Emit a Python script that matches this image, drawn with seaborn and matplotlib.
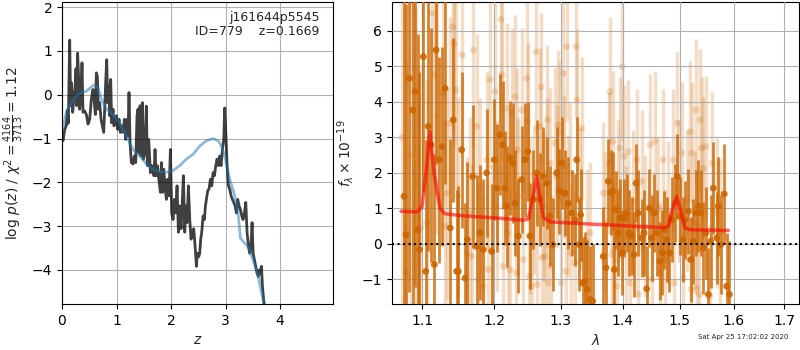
import matplotlib
matplotlib.use("Agg")
import matplotlib.pyplot as plt
import matplotlib.ticker as mticker
import numpy as np
import pandas as pd
import seaborn as sns

# ---------------- left panel: log p(z) ----------------
z_pz = [0.0, 0.018, 0.049, 0.080, 0.098, 0.116, 0.141, 0.159, 0.177, 0.196, 0.214, 0.239, 0.257,
        0.269, 0.287, 0.306, 0.324, 0.349, 0.367, 0.385, 0.416, 0.446, 0.477, 0.508, 0.538, 0.569,
        0.587, 0.612, 0.630, 0.648, 0.667, 0.691, 0.716, 0.740, 0.765, 0.783, 0.801, 0.820, 0.838,
        0.856, 0.875, 0.893, 0.911, 0.936, 0.954, 0.979, 0.997, 1.021, 1.046, 1.070, 1.095, 1.119,
        1.144, 1.168, 1.193, 1.211, 1.229, 1.248, 1.272, 1.303, 1.327, 1.352, 1.376, 1.394, 1.413,
        1.431, 1.450, 1.474, 1.492, 1.517, 1.547, 1.566, 1.590, 1.621, 1.645, 1.670, 1.688, 1.706,
        1.725, 1.749, 1.780, 1.804, 1.823, 1.847, 1.865, 1.890, 1.914, 1.939, 1.963, 1.988, 2.012,
        2.037, 2.061, 2.086, 2.110, 2.135, 2.159, 2.183, 2.208, 2.226, 2.251, 2.269, 2.294, 2.318,
        2.343, 2.367, 2.391, 2.416, 2.440, 2.465, 2.483, 2.508, 2.526, 2.544, 2.563, 2.587, 2.612,
        2.630, 2.648, 2.673, 2.697, 2.722, 2.746, 2.771, 2.795, 2.820, 2.844, 2.869, 2.893, 2.917,
        2.942, 2.966, 2.985, 3.003, 3.028, 3.052, 3.076, 3.101, 3.125, 3.150, 3.174, 3.199, 3.223,
        3.248, 3.272, 3.297, 3.321, 3.346, 3.370, 3.394, 3.419, 3.443, 3.468, 3.486, 3.505, 3.529,
        3.554, 3.578, 3.603, 3.621, 3.639, 3.658, 3.676, 3.700, 3.719, 3.760]
logp = [-0.95, -1.05, -0.80, -0.70, -0.35, -0.65, 1.25, -0.25, 0.27, -0.40, -0.10, 0.12, 0.60,
        -0.25, 0.95, 0.35, -0.33, 0.05, 0.73, -0.40, -0.37, -0.45, -0.67, -0.56, -0.10, 0.12,
        -0.10, -0.45, 0.50, 0.42, -0.33, -0.18, -0.56, -0.71, -0.86, -0.33, 0.27, 0.80, -0.18,
        0.20, -0.48, 0.35, -0.64, -0.33, -0.71, -0.56, -0.48, -0.79, -0.56, -0.86, -0.71, -0.86,
        -0.56, -1.02, -0.56, -0.94, 0.05, -1.10, -1.55, -1.58, -1.40, -1.55, -0.48, -0.33, -1.33,
        -0.25, -1.40, -0.18, -1.47, -1.33, -0.26, -1.62, -1.02, -1.78, -1.62, -1.78, -1.85, -1.25,
        -1.85, -1.62, -1.97, -2.23, -1.55, -2.23, -1.70, -2.08, -2.39, -1.93, -2.31, -1.25, -2.70,
        -2.85, -2.39, -2.70, -2.08, -3.14, -2.54, -3.06, -2.39, -1.85, -3.14, -2.54, -2.92, -2.08,
        -2.85, -3.30, -3.14, -3.06, -3.45, -3.92, -3.62, -3.70, -3.62, -3.30, -3.14, -2.77, -2.85,
        -2.54, -2.39, -2.19, -2.15, -1.93, -2.08, -1.78, -1.85, -1.62, -1.47, -1.62, -1.40, -1.62,
        -1.25, -1.02, -0.30, -0.86, -1.62, -2.08, -2.15, -2.31, -2.39, -2.46, -2.54, -2.70, -2.39,
        -2.54, -2.62, -2.77, -2.85, -2.70, -2.46, -3.14, -3.45, -3.62, -3.38, -2.92, -3.62, -3.77,
        -3.92, -4.08, -4.15, -4.00, -4.08, -3.92, -4.38, -4.70, -4.90, -5.40]

z_prior = [0.0, 0.080, 0.171, 0.263, 0.355, 0.446, 0.538, 0.599, 0.661, 0.722, 0.813, 0.936,
           1.058, 1.180, 1.303, 1.425, 1.547, 1.670, 1.792, 1.914, 2.037, 2.159, 2.281, 2.404,
           2.526, 2.648, 2.771, 2.862, 2.924, 2.985, 3.076, 3.168, 3.229, 3.272, 3.321, 3.413,
           3.505, 3.596, 3.688, 3.749]
logp_prior = [-0.86, -0.40, -0.18, -0.03, 0.05, 0.08, 0.18, 0.23, 0.16, -0.10, -0.33, -0.45,
              -0.64, -0.94, -1.25, -1.40, -1.58, -1.70, -1.76, -1.77, -1.73, -1.62, -1.47, -1.36,
              -1.17, -1.05, -1.00, -1.05, -1.17, -1.40, -1.93, -2.31, -2.70, -3.27, -3.35, -3.48,
              -3.77, -4.15, -4.68, -5.05]

# ---------------- right panel: spectrum ----------------
wave_bin = [1.0764, 1.0790, 1.0834, 1.0877, 1.0908, 1.0943, 1.0965, 1.1018, 1.1049, 1.1084,
            1.1120, 1.1164, 1.1187, 1.1232, 1.1268, 1.1309, 1.1381, 1.1422, 1.1468, 1.1491,
            1.1537, 1.1584, 1.1616, 1.1691, 1.1747, 1.1795, 1.1842, 1.1889, 1.1961, 1.2000,
            1.2033, 1.2082, 1.2120, 1.2155, 1.2179, 1.2228, 1.2267, 1.2302, 1.2351, 1.2401,
            1.2450, 1.2490, 1.2525, 1.2576, 1.2626, 1.2677, 1.2728, 1.2779, 1.2830, 1.2872,
            1.2934, 1.2975, 1.3012, 1.3064, 1.3116, 1.3169, 1.3222, 1.3249, 1.3291, 1.3312,
            1.3344, 1.3382, 1.3420, 1.3463, 1.3506, 1.3680, 1.3724, 1.3763, 1.3801, 1.3835,
            1.3862, 1.3890, 1.3929, 1.3957, 1.3996, 1.4030, 1.4070, 1.4109, 1.4154, 1.4194,
            1.4228, 1.4268, 1.4326, 1.4366, 1.4412, 1.4458, 1.4499, 1.4546, 1.4587, 1.4645,
            1.4686, 1.4722, 1.4763, 1.4811, 1.4852, 1.4912, 1.4954, 1.5002, 1.5050, 1.5092,
            1.5153, 1.5195, 1.5244, 1.5293, 1.5336, 1.5379, 1.5429, 1.5472, 1.5522, 1.5565,
            1.5615, 1.5678, 1.5710, 1.5754, 1.5823, 1.5868, 1.5919]
flux_bin = [1.34, 0.26, 4.66, 3.77, 4.29, 0.40, -0.16, 5.27, -0.77, 3.31,
            2.79, -0.58, 5.46, 2.37, 2.74, 4.38, 0.45, 3.49, -0.77, -0.77,
            2.65, -0.96, 0.12, 1.90, -0.07, 0.31, -0.16, 2.00, -0.21, 2.37,
            1.57, 3.07, 2.79, 1.57, 1.06, 2.42, 2.28, 1.15, 0.22, 1.81,
            2.37, 2.60, 0.22, 1.25, 2.00, 1.25, 1.90, 1.71, 0.78, -0.02,
            2.00, 1.48, 2.28, 1.43, 1.15, 0.87, 0.68, 2.37, -0.02, 0.82,
            -1.10, -1.05, -1.28, -1.56, -1.61, -0.35, -0.67, 1.76, 1.45, 1.48,
            -0.72, 0.96, 0.31, 0.73, -0.25, 0.73, 0.87, 0.31, 0.22, -0.30,
            1.71, 0.87, 0.17, 0.31, -1.26, 1.01, 0.17, 0.87, 0.31, -0.49,
            -0.25, 0.40, 0.12, -0.25, 0.68, 1.15, 1.90, 0.78, 0.12, 0.68,
            0.92, -0.44, 0.07, 0.87, 1.06, 0.87, -0.11, 0.31, -1.42, 0.07,
            1.57, 0.17, 1.06, -0.02, 1.41, -1.19, -1.42]
err_bin = [6.5, 6.5, 6.0, 6.0, 5.5, 5.5, 5.0, 3.8, 3.7, 3.5,
           3.3, 3.1, 3.2, 2.9, 2.8, 2.7, 2.5, 2.3, 2.3, 2.4,
           2.2, 2.1, 2.2, 2.0, 2.0, 1.9, 2.0, 1.8, 1.9, 1.7,
           1.8, 1.7, 1.8, 1.6, 1.7, 1.6, 1.7, 1.5, 1.6, 1.5,
           1.6, 1.4, 1.5, 1.4, 1.5, 1.3, 1.4, 1.3, 1.4, 1.3,
           1.3, 1.2, 1.3, 1.2, 1.3, 1.2, 1.3, 1.2, 1.3, 1.3,
           1.3, 1.4, 1.4, 1.5, 1.6, 1.4, 1.3, 1.2, 1.2, 1.1,
           1.2, 1.1, 1.2, 1.1, 1.2, 1.1, 1.1, 1.2, 1.1, 1.2,
           1.1, 1.2, 1.1, 1.2, 1.2, 1.1, 1.2, 1.1, 1.2, 1.1,
           1.2, 1.1, 1.2, 1.1, 1.2, 1.1, 1.2, 1.1, 1.2, 1.1,
           1.2, 1.2, 1.2, 1.2, 1.3, 1.2, 1.3, 1.3, 1.3, 1.3,
           1.3, 1.3, 1.4, 1.4, 1.4, 1.5, 1.5]

wave_raw = [1.0734, 1.0790, 1.0851, 1.0921, 1.0982, 1.1062, 1.1129, 1.1173, 1.1196, 1.1286,
            1.1309, 1.1340, 1.1377, 1.1413, 1.1432, 1.1459, 1.1491, 1.1547, 1.1607, 1.1654,
            1.1677, 1.1700, 1.1747, 1.1771, 1.1795, 1.1842, 1.1889, 1.1913, 1.1937, 1.1961,
            1.2009, 1.2033, 1.2096, 1.2111, 1.2130, 1.2179, 1.2194, 1.2228, 1.2252, 1.2302,
            1.2316, 1.2336, 1.2351, 1.2401, 1.2426, 1.2475, 1.2490, 1.2511, 1.2525, 1.2551,
            1.2586, 1.2616, 1.2636, 1.2677, 1.2692, 1.2708, 1.2738, 1.2753, 1.2779, 1.2789,
            1.2805, 1.2830, 1.2846, 1.2908, 1.2934, 1.2960, 1.2986, 1.3001, 1.3038, 1.3053,
            1.3074, 1.3090, 1.3106, 1.3143, 1.3159, 1.3222, 1.3238, 1.3254, 1.3302, 1.3328,
            1.3409, 1.3463, 1.3680, 1.3708, 1.3779, 1.3790, 1.3818, 1.3835, 1.3846, 1.3901,
            1.3929, 1.3957, 1.3996, 1.4024, 1.4058, 1.4098, 1.4126, 1.4183, 1.4240, 1.4268,
            1.4326, 1.4383, 1.4470, 1.4499, 1.4557, 1.4616, 1.4645, 1.4704, 1.4733, 1.4792,
            1.4882, 1.4900, 1.4954, 1.4989, 1.5031, 1.5062, 1.5122, 1.5183, 1.5201, 1.5213,
            1.5274, 1.5293, 1.5305, 1.5354, 1.5366, 1.5397, 1.5429, 1.5478, 1.5553, 1.5596,
            1.5678, 1.5741]
flux_raw = [3.0, -0.81, 2.5, 1.71, 0.45, 0.6, 6.49, 4.76, 3.59, 4.24,
            0.5, 1.43, 3.4, 6.11, 5.65, 4.33, 1.34, 5.32, -0.25, 0.87,
            -0.35, 5.46, 3.31, -1.0, 1.62, -1.19, 2.37, -0.72, 4.62, -0.16,
            4.29, 1.06, 6.32, 4.76, -0.63, 3.82, 0.31, -0.72, 3.68, 4.15,
            -0.81, 2.65, 1.34, 3.77, -0.44, 4.66, 3.45, -0.91, 0.78, -1.19,
            1.25, 5.41, -1.14, 3.31, 4.41, -0.39, 1.06, -0.35, 2.0, 3.49,
            -1.1, 2.28, -0.63, 2.84, 1.9, 3.35, 3.14, -1.1, 4.8, 2.18,
            -0.77, 5.55, 1.06, 2.0, -0.25, -0.53, 5.55, 4.05, 1.25, 3.26,
            0.12, 0.31, 1.43, 0.6, 2.28, 4.29, -0.3, 2.88, -0.16, -1.19,
            1.5, 2.7, 4.99, 2.46, 0.2, 2.6, -1.1, 1.2, 2.37, -1.42,
            1.76, 0.5, 2.79, -1.0, 2.88, 1.0, -0.81, 2.37, -0.44, 0.9,
            2.37, -1.1, 3.4, 1.5, 2.56, -0.96, 1.2, 3.16, -1.28, 2.56,
            0.6, 3.77, -1.24, -1.42, 3.49, 2.7, 2.13, 2.74, -1.47, 2.28,
            0.87, 0.31]
err_raw = [6.0, 6.0, 5.5, 5.0, 4.5, 4.0, 3.5, 3.4, 3.3, 3.2,
           3.0, 3.0, 3.0, 2.9, 2.9, 2.8, 2.8, 2.8, 2.7, 2.7,
           2.6, 2.7, 2.6, 2.6, 2.5, 2.6, 2.5, 2.5, 2.5, 2.4,
           2.5, 2.4, 2.6, 2.4, 2.3, 2.4, 2.3, 2.3, 2.4, 2.3,
           2.3, 2.3, 2.2, 2.3, 2.2, 2.3, 2.2, 2.2, 2.2, 2.2,
           2.1, 2.3, 2.1, 2.2, 2.1, 2.1, 2.1, 2.1, 2.1, 2.1,
           2.1, 2.1, 2.0, 2.1, 2.0, 2.1, 2.0, 2.0, 2.1, 2.0,
           2.0, 2.1, 2.0, 2.0, 2.0, 2.0, 2.0, 2.0, 2.0, 2.0,
           2.0, 2.0, 2.0, 2.0, 2.0, 2.1, 2.0, 2.0, 2.0, 2.0,
           2.0, 2.0, 2.1, 2.0, 2.0, 2.0, 2.0, 2.0, 2.0, 2.0,
           2.0, 2.0, 2.0, 2.0, 2.0, 2.0, 2.0, 2.0, 2.0, 2.0,
           2.0, 2.0, 2.0, 2.0, 2.0, 2.0, 2.0, 2.0, 2.0, 2.0,
           2.0, 2.0, 2.0, 2.0, 2.0, 2.0, 2.0, 2.0, 2.0, 2.0,
           2.1, 2.1]

wave_model = [1.0726, 1.0938, 1.1000, 1.1053, 1.1106, 1.1160, 1.1241, 1.1308, 1.1560, 1.2034,
              1.2425, 1.2500, 1.2571, 1.2627, 1.2677, 1.2728, 1.2830, 1.3572, 1.4704, 1.4793,
              1.4864, 1.4942, 1.5019, 1.5093, 1.5184, 1.5898]
flux_model = [0.92, 0.90, 1.05, 2.00, 3.16, 2.00, 1.00, 0.85, 0.79, 0.73,
              0.67, 0.70, 1.30, 1.90, 1.30, 0.75, 0.62, 0.55, 0.46, 0.50,
              0.95, 1.34, 0.90, 0.45, 0.40, 0.38]

z_ticks = [0, 1, 2, 3, 4]
pz_yticks = [-4, -3, -2, -1, 0, 1, 2]
wave_ticks = [1.1, 1.2, 1.3, 1.4, 1.5, 1.6, 1.7]
wave_ticklabels = ["1.1", "1.2", "1.3", "1.4", "1.5", "1.6", "1.7"]
flux_yticks = [-1, 0, 1, 2, 3, 4, 5, 6]

root_name = "j161644p5545"
obj_id = 779
z_best = 0.1669
timestamp = "Sat Apr 25 17:02:02 2020"

sns.set_style("ticks")
plt.rcParams["font.family"] = ["DejaVu Sans"]

fig = plt.figure(figsize=(8, 3.5), dpi=100)
ax1 = fig.add_axes([0.0775, 0.1314, 0.33875, 0.863])
ax2 = fig.add_axes([0.49, 0.1314, 0.50875, 0.863])

# Left panel
df_pz = pd.DataFrame({"z": z_pz, "logp": logp})
df_pr = pd.DataFrame({"z": z_prior, "logp": logp_prior})
sns.lineplot(data=df_pz, x="z", y="logp", ax=ax1, color="k", alpha=0.75, lw=2,
             sort=False, estimator=None)
sns.lineplot(data=df_pr, x="z", y="logp", ax=ax1, color="tab:blue", alpha=0.5, lw=2,
             sort=False, estimator=None)
ax1.set_xlim(0, 4.97)
ax1.set_ylim(-4.78, 2.12)
ax1.set_xticks(z_ticks)
ax1.set_yticks(pz_yticks)
ax1.grid(True, color="#b0b0b0", lw=0.8)
ax1.set_xlabel(r"$z$")
ax1.set_ylabel(r"$\log\,p(z)$ / $\chi^2=\frac{4164}{3713}=1.12$")
ax1.text(0.95, 0.97, f"{root_name}\nID={obj_id}    z={z_best:.4f}", transform=ax1.transAxes,
         ha="right", va="top", fontsize=9, linespacing=1.1)
for s in ax1.spines.values():
    s.set_color("k")

# Right panel
orange = (0.8, 0.4, 0.0)
ax2.errorbar(wave_raw, flux_raw, yerr=err_raw, fmt="none", ecolor=orange, alpha=0.22, lw=2.5)
sns.scatterplot(x=wave_raw, y=flux_raw, ax=ax2, color=orange, alpha=0.22, s=24,
                edgecolor="none", zorder=2)
ax2.errorbar(wave_bin, flux_bin, yerr=err_bin, fmt="none", ecolor=orange, alpha=0.8, lw=2.0,
             zorder=3)
sns.scatterplot(x=wave_bin, y=flux_bin, ax=ax2, color=orange, alpha=0.9, s=24,
                edgecolor="none", zorder=4)
df_m = pd.DataFrame({"wave": wave_model, "flux": flux_model})
sns.lineplot(data=df_m, x="wave", y="flux", ax=ax2, color="r", alpha=0.6, lw=2.5,
             sort=False, estimator=None, zorder=5)
ax2.axhline(0, color="k", ls=":", lw=1.5, zorder=6)
ax2.set_xscale("log")
ax2.set_xlim(1.061, 1.731)
ax2.set_ylim(-1.69, 6.81)
ax2.xaxis.set_major_locator(mticker.FixedLocator(wave_ticks))
ax2.xaxis.set_major_formatter(mticker.FixedFormatter(wave_ticklabels))
ax2.xaxis.set_minor_locator(mticker.NullLocator())
ax2.set_yticks(flux_yticks)
ax2.grid(True, color="#b0b0b0", lw=0.8)
ax2.set_axisbelow(False)
ax2.set_xlabel(r"$\lambda$")
ax2.set_ylabel(r"$f_\lambda\times10^{-19}$")
for s in ax2.spines.values():
    s.set_color("k")
for ax in (ax1, ax2):
    ax.tick_params(colors="k", labelsize=10)

fig.text(0.985, 0.028, timestamp, ha="right", va="bottom", fontsize=5)

fig.savefig("out.png", dpi=100)
